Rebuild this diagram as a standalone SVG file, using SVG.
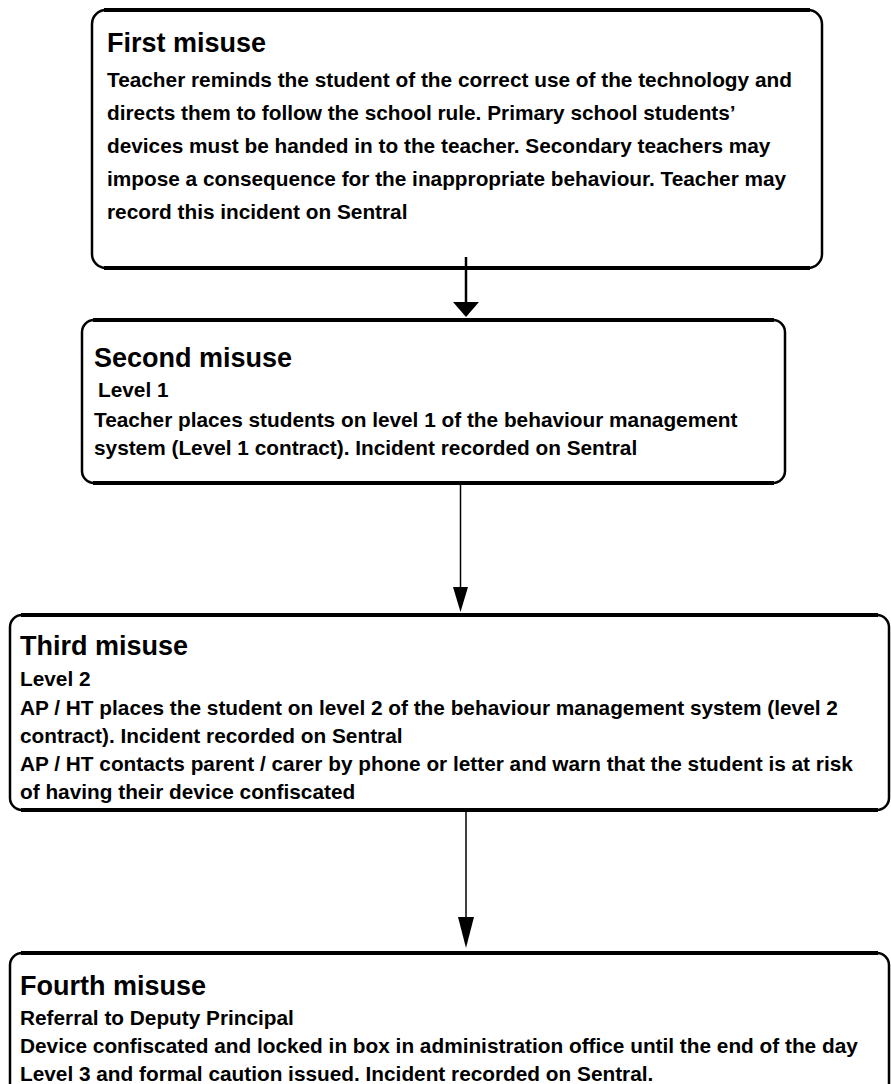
<svg xmlns="http://www.w3.org/2000/svg" width="891" height="1084" viewBox="0 0 891 1084">
<style>
  .box { fill: #ffffff; stroke: #000000; stroke-width: 2.5; }
  .edge { stroke: #000000; stroke-width: 4; fill: none; }
  .title { font-family: "Liberation Sans", Arial, sans-serif; font-weight: bold; font-size: 27px; fill: #000; }
  .body { font-family: "Liberation Sans", Arial, sans-serif; font-weight: bold; font-size: 20.8px; fill: #000; }
  .conn { stroke: #000; fill: none; }
  .head { fill: #000; stroke: none; }
</style>
<rect width="891" height="1084" fill="#ffffff"/>

<g id="node-first">
  <rect class="box" x="92" y="10" width="730" height="258" rx="14" ry="14"/>
  <line class="edge" x1="104" y1="10" x2="810" y2="10"/>
  <line class="edge" x1="104" y1="268" x2="810" y2="268"/>
  <text class="title" x="107" y="52">First misuse</text>
  <text class="body" x="107" y="87">Teacher reminds the student of the correct use of the technology and</text>
  <text class="body" x="107" y="120">directs them to follow the school rule. Primary school students’</text>
  <text class="body" x="107" y="153">devices must be handed in to the teacher. Secondary teachers may</text>
  <text class="body" x="107" y="186">impose a consequence for the inappropriate behaviour. Teacher may</text>
  <text class="body" x="107" y="219">record this incident on Sentral</text>
</g>

<g id="node-second">
  <rect class="box" x="82" y="320" width="703" height="163" rx="12" ry="12"/>
  <line class="edge" x1="93" y1="320" x2="774" y2="320"/>
  <line class="edge" x1="93" y1="483" x2="774" y2="483"/>
  <text class="title" x="94" y="367">Second misuse</text>
  <text class="body" x="98" y="397">Level 1</text>
  <text class="body" x="94" y="427">Teacher places students on level 1 of the behaviour management</text>
  <text class="body" x="94" y="455">system (Level 1 contract). Incident recorded on Sentral</text>
</g>

<g id="node-third">
  <rect class="box" x="10" y="615" width="879" height="195" rx="12" ry="12"/>
  <line class="edge" x1="21" y1="615" x2="878" y2="615"/>
  <line class="edge" x1="21" y1="810" x2="878" y2="810"/>
  <text class="title" x="20" y="655">Third misuse</text>
  <text class="body" x="20" y="686">Level 2</text>
  <text class="body" x="20" y="715">AP / HT places the student on level 2 of the behaviour management system (level 2</text>
  <text class="body" x="20" y="743">contract). Incident recorded on Sentral</text>
  <text class="body" x="20" y="771">AP / HT contacts parent / carer by phone or letter and warn that the student is at risk</text>
  <text class="body" x="20" y="799">of having their device confiscated</text>
</g>

<g id="node-fourth">
  <rect class="box" x="10" y="953" width="879" height="160" rx="12" ry="12"/>
  <line class="edge" x1="21" y1="953" x2="878" y2="953"/>
  <text class="title" x="20" y="995">Fourth misuse</text>
  <text class="body" x="20" y="1025">Referral to Deputy Principal</text>
  <text class="body" x="20" y="1053">Device confiscated and locked in box in administration office until the end of the day</text>
  <text class="body" x="20" y="1081">Level 3 and formal caution issued. Incident recorded on Sentral.</text>
</g>

<g id="connectors">
  <line class="conn" x1="466" y1="257" x2="466" y2="303" stroke-width="2.5"/>
  <polygon class="head" points="453,302 479,302 466,317"/>
  <line class="conn" x1="460.5" y1="485" x2="460.5" y2="588" stroke-width="1.5"/>
  <polygon class="head" points="453,587 468,587 460.5,612"/>
  <line class="conn" x1="466" y1="812" x2="466" y2="918" stroke-width="1.5"/>
  <polygon class="head" points="458,917 474,917 466,948"/>
</g>
</svg>
